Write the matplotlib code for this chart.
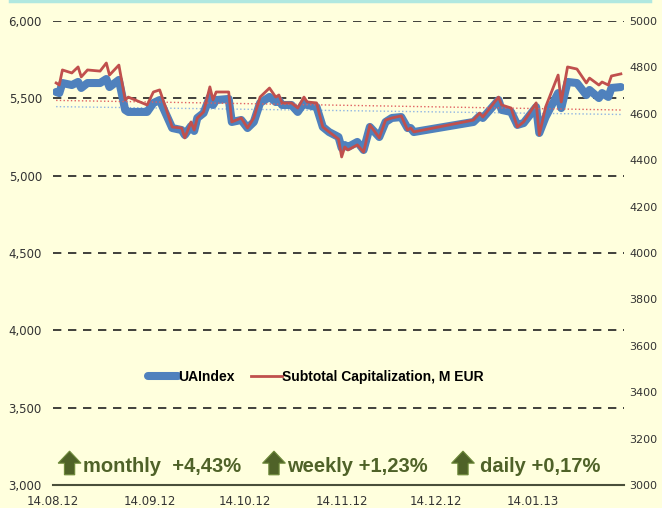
import pandas as pd
import numpy as np
import matplotlib
matplotlib.use('Agg')
import matplotlib.pyplot as plt
import matplotlib.dates as mdates
from matplotlib.patches import FancyArrow
from matplotlib.ticker import FuncFormatter, MultipleLocator

# data
dates = ['2012-08-15', '2012-08-16', '2012-08-17', '2012-08-20', '2012-08-22', '2012-08-23',
         '2012-08-25', '2012-08-29', '2012-08-31', '2012-09-01', '2012-09-04', '2012-09-06',
         '2012-09-07', '2012-09-13', '2012-09-15', '2012-09-17', '2012-09-21', '2012-09-24',
         '2012-09-25', '2012-09-27', '2012-09-28', '2012-09-29', '2012-10-01', '2012-10-03',
         '2012-10-04', '2012-10-05', '2012-10-09', '2012-10-10', '2012-10-13', '2012-10-15',
         '2012-10-17', '2012-10-19', '2012-10-22', '2012-10-24', '2012-10-25', '2012-10-26',
         '2012-10-29', '2012-10-31', '2012-11-02', '2012-11-03', '2012-11-06', '2012-11-08',
         '2012-11-10', '2012-11-13', '2012-11-14', '2012-11-15', '2012-11-16', '2012-11-19',
         '2012-11-21', '2012-11-23', '2012-11-26', '2012-11-28', '2012-11-30', '2012-12-03',
         '2012-12-05', '2012-12-06', '2012-12-07', '2012-12-26', '2012-12-28', '2012-12-29',
         '2013-01-03', '2013-01-04', '2013-01-07', '2013-01-09', '2013-01-11', '2013-01-15',
         '2013-01-16', '2013-01-18', '2013-01-22', '2013-01-23', '2013-01-25', '2013-01-28',
         '2013-01-31', '2013-02-01', '2013-02-04', '2013-02-05', '2013-02-07', '2013-02-08',
         '2013-02-11']

ua_index = [5541, 5534, 5599, 5586, 5606, 5567, 5599, 5599, 5625, 5573, 5619, 5425,
            5412, 5412, 5470, 5489, 5308, 5295, 5263, 5321, 5289, 5373, 5405, 5509,
            5457, 5489, 5496, 5347, 5360, 5308, 5347, 5470, 5509, 5476, 5489, 5457,
            5457, 5412, 5470, 5457, 5444, 5315, 5282, 5250, 5179, 5198, 5185, 5218,
            5166, 5315, 5250, 5347, 5373, 5379, 5308, 5308, 5282, 5347, 5386, 5373,
            5489, 5425, 5412, 5328, 5340, 5444, 5276, 5379, 5534, 5437, 5606, 5599,
            5521, 5554, 5502, 5534, 5509, 5567, 5573]

capitalization = [4733, 4724, 4789, 4776, 4802, 4759, 4789, 4784, 4819, 4767, 4810, 4660,
                  4672, 4638, 4694, 4703, 4543, 4539, 4496, 4565, 4530, 4582, 4608, 4716,
                  4660, 4694, 4694, 4565, 4582, 4539, 4582, 4672, 4711, 4672, 4681, 4647,
                  4647, 4625, 4672, 4651, 4647, 4543, 4522, 4491, 4414, 4457, 4444, 4466,
                  4435, 4552, 4496, 4573, 4582, 4591, 4530, 4539, 4522, 4573, 4603, 4586,
                  4672, 4638, 4625, 4543, 4565, 4647, 4509, 4629, 4767, 4651, 4802, 4793,
                  4733, 4754, 4724, 4737, 4724, 4763, 4772]

tick_dates = ['2012-08-14', '2012-09-14', '2012-10-14', '2012-11-14', '2012-12-14', '2013-01-14']
change_labels = ['monthly  +4,43%', 'weekly +1,23%', 'daily +0,17%']
arrow_x = [0.029, 0.387, 0.718]
label_x = [0.0525, 0.41, 0.748]

df = pd.DataFrame({'date': pd.to_datetime(dates), 'ua': ua_index, 'cap': capitalization})

bg = '#FFFFDD'
blue = '#4F81BD'
red = '#C0504D'
green = '#4F6228'

fig = plt.figure(figsize=(6.62, 5.08), dpi=100, facecolor=bg)
ax = fig.add_axes([53 / 662, 1 - 485 / 508, 571 / 662, 464 / 508])
ax.set_facecolor(bg)
ax2 = ax.twinx()

# dashed horizontal grid from the left axis
for v in range(3500, 6001, 500):
    ax.axhline(v, color='#202020', lw=1.2, ls=(0, (5, 4)), zorder=1)

l1, = ax.plot(df['date'], df['ua'], color=blue, lw=5.8, solid_joinstyle='round',
              solid_capstyle='round', zorder=3, label='UAIndex')
l2, = ax2.plot(df['date'], df['cap'], color=red, lw=2, solid_joinstyle='round',
               zorder=4, label='Subtotal Capitalization, M EUR')

# linear trendlines
xn = mdates.date2num(df['date'])
p1 = np.polyfit(xn, df['ua'], 1)
p2 = np.polyfit(xn, df['cap'], 1)
ax.plot(df['date'], np.polyval(p1, xn), color='#8EB4E3', lw=1, ls=':', zorder=2)
ax2.plot(df['date'], np.polyval(p2, xn), color='#E06060', lw=1, ls=':', zorder=2)

ax.set_ylim(3000, 6000)
ax2.set_ylim(3000, 5000)
ax.yaxis.set_major_locator(MultipleLocator(500))
ax2.yaxis.set_major_locator(MultipleLocator(200))
ax.yaxis.set_major_formatter(FuncFormatter(lambda v, p: f'{int(v):,}'))
ax.set_xlim(pd.Timestamp('2012-08-14'), pd.Timestamp('2013-02-12'))
ax.set_xticks(pd.to_datetime(tick_dates))
ax.xaxis.set_major_formatter(mdates.DateFormatter('%d.%m.%y'))

for a in (ax, ax2):
    for s in a.spines.values():
        s.set_visible(False)
    a.tick_params(length=0, labelsize=8.5, labelcolor='#333333')
ax.spines['bottom'].set_visible(True)
ax.spines['bottom'].set_color('#4A4F3A')
ax.spines['bottom'].set_linewidth(1.5)
ax.tick_params(axis='y', pad=8)
ax.tick_params(axis='x', pad=7)
ax2.tick_params(axis='y', pad=4, labelsize=8)

ax.legend([l1, l2], [l1.get_label(), l2.get_label()], ncol=2, frameon=False,
          loc='center', bbox_to_anchor=(0.46, 0.233), handlelength=2.2,
          handletextpad=0.0, columnspacing=1.2,
          prop={'family': 'Liberation Sans', 'weight': 'bold', 'size': 10})

# change boxes: block arrow + text
for text, axp, txp in zip(change_labels, arrow_x, label_x):
    ax.add_patch(FancyArrow(axp, 0.022, 0, 0.051, width=0.018, head_width=0.040,
                            head_length=0.026, length_includes_head=True,
                            transform=ax.transAxes, facecolor=green,
                            edgecolor='#6E8A3A', lw=0.8, zorder=5, clip_on=False))
    ax.text(txp, 0.027, text, transform=ax.transAxes, fontsize=14.5, color=green,
            family='Liberation Sans', weight='bold', va='baseline', ha='left')

# thin cyan strip on top
fig.add_artist(plt.Line2D([10 / 662, 650 / 662], [0.998, 0.998], color='#B0E8E0', lw=2.5))

plt.savefig('out.png', dpi=100, facecolor=bg)
